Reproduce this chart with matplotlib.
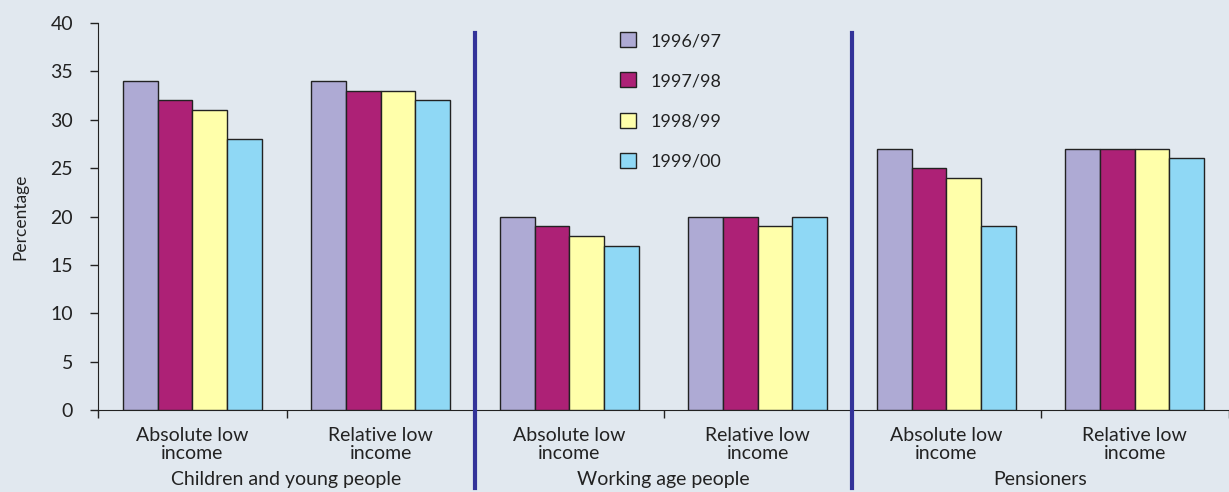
import numpy as np
import matplotlib.pyplot as plt

years = ["1996/97", "1997/98", "1998/99", "1999/00"]
categories = ["Absolute low\nincome", "Relative low\nincome"] * 3
groups = ["Children and young people", "Working age people", "Pensioners"]
values = {
    "1996/97": [34, 34, 20, 20, 27, 27],
    "1997/98": [32, 33, 19, 20, 25, 27],
    "1998/99": [31, 33, 18, 19, 24, 27],
    "1999/00": [28, 32, 17, 20, 19, 26],
}
colors = ["#aeaad4", "#ad2176", "#ffffaa", "#8fd8f5"]
bg = "#e1e8ef"

plt.rcParams['font.family'] = ['Lato', 'DejaVu Sans']

fig = plt.figure(figsize=(12.29, 4.92), dpi=100, facecolor=bg)
ax = fig.add_axes([98 / 1229, 1 - 410 / 492, 1131 / 1229, 387 / 492])
ax.set_facecolor(bg)

x = np.arange(len(categories))
w = 0.184
for i, yr in enumerate(years):
    ax.bar(x - 1.5 * w + i * w, values[yr], w, color=colors[i],
           edgecolor="#222222", linewidth=1, label=yr, zorder=3)

ax.set_xlim(-0.5, len(categories) - 0.5)
ax.set_ylim(0, 40)
ax.set_yticks(range(0, 41, 5))
ax.set_xticks(np.arange(-0.5, len(categories), 1.0))
ax.set_xticklabels([])
ax.tick_params(axis='both', direction='out', length=6, width=1,
               color="#222222", labelsize=14, labelcolor="#222222")
ax.tick_params(axis='y', pad=12)
for s in ["top", "right"]:
    ax.spines[s].set_visible(False)
for s in ["left", "bottom"]:
    ax.spines[s].set_color("#222222")

ax.set_ylabel("Percentage", fontsize=12.5, color="#222222", labelpad=16)

for xi, lab in zip(x, categories):
    ax.text(xi, -1.75, lab, ha='center', va='top', fontsize=14,
            color="#222222", linespacing=1.08)
for g, lab in enumerate(groups):
    ax.text(2 * g + 0.5, -6.3, lab, ha='center', va='top', fontsize=14,
            color="#222222")

for xd in [1.5, 3.5]:
    ax.plot([xd, xd], [39.0, -8.1], color="#333399", lw=3,
            clip_on=False, zorder=4)

leg = ax.legend(loc='upper left', bbox_to_anchor=(0.447, 1.018), frameon=False,
                fontsize=13, labelspacing=1.3, handlelength=0.9,
                handleheight=0.9, handletextpad=0.8)
for t in leg.get_texts():
    t.set_color("#222222")

fig.savefig("out.png", dpi=100, facecolor=bg)
